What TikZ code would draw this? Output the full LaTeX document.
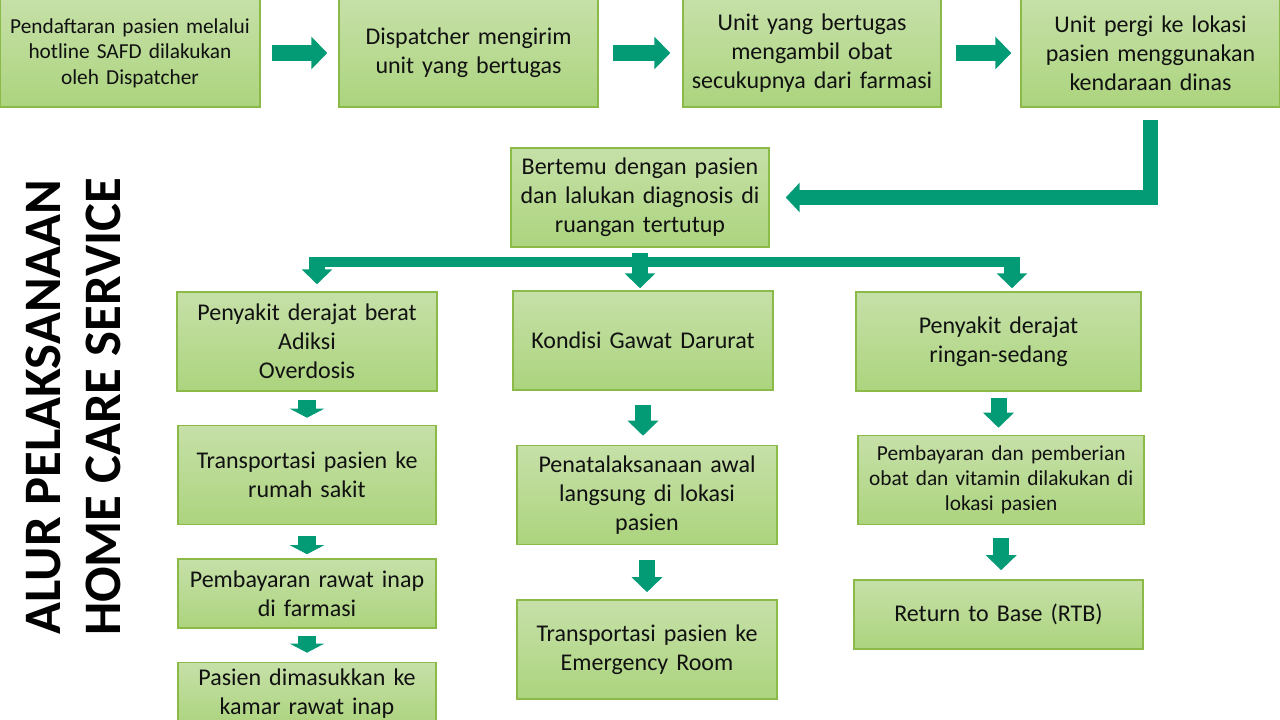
\documentclass[tikz,border=0pt]{standalone}
\usepackage{fontspec}
\setmainfont{Carlito}
\usetikzlibrary{arrows.meta,positioning,calc}
\definecolor{Leaf}{HTML}{C6E0A8}
\definecolor{LeafDark}{HTML}{ACD47E}
\definecolor{LeafLine}{HTML}{8CBA48}
\definecolor{Jade}{HTML}{039B76}
\definecolor{Ink}{HTML}{111111}
\tikzset{
 box/.style={draw=LeafLine,line width=1.1pt,top color=Leaf,bottom color=LeafDark,align=center,text=Ink,font=\fontsize{18}{21.75}\selectfont,text width=194.25pt,inner xsep=0pt,minimum height=74.25pt},
 small/.style={font=\fontsize{16}{19}\selectfont},
 harr/.style={draw=Jade,line width=12pt,-{Triangle[length=12pt,width=24pt]}},
 varr/.style={draw=Jade,line width=12pt,-{Triangle[length=11.25pt,width=22.5pt]}},
 sarr/.style={draw=Jade,line width=13.5pt,-{Triangle[length=6.75pt,width=25.5pt]}},
 bendarr/.style={draw=Jade,line width=11.25pt,line join=miter,-{Triangle[length=10.5pt,width=21.75pt]}},
 bus/.style={draw=Jade,line width=7.5pt},
 title/.style={font=\fontsize{39.5}{45}\selectfont\bfseries,align=center,rotate=90}
}
\begin{document}
\begin{tikzpicture}[x=0.75pt,y=-0.75pt]
\useasboundingbox (0,0) rectangle (1280,720);
\node[title] (ttl) at (73,407) {ALUR PELAKSANAAN\\HOME CARE SERVICE};
% top row
\node[box,small,text width=195pt,minimum height=81pt] (t1) at (130,53) {Pendaftaran pasien melalui\\hotline SAFD dilakukan\\oleh Dispatcher};
\node[box,minimum height=81pt] (t2) at (468.5,53) {Dispatcher mengirim\\unit yang bertugas};
\node[box,text width=193.5pt,minimum height=81pt] (t3) at (812,53) {Unit yang bertugas\\mengambil obat\\secukupnya dari farmasi};
\node[box,minimum height=81pt] (t4) at (1150.5,53) {Unit pergi ke lokasi\\pasien menggunakan\\kendaraan dinas};
\node[box,text width=193.5pt] (c) at (640,197.5) {Bertemu dengan pasien\\dan lalukan diagnosis di\\ruangan tertutup};
% three branches
\node[box,text width=195pt] (L1) at (307,341.5) {Penyakit derajat berat\\Adiksi\\Overdosis};
\node[box,text width=195pt] (M1) at (643,340.5) {Kondisi Gawat Darurat};
\node[box,text width=213.75pt] (R1) at (998.5,341.5) {Penyakit derajat\\ringan-sedang};
\node[box,text width=193.5pt,below=24.75pt of L1] (L2) {Transportasi pasien ke\\rumah sakit};
\node[box,text width=193.5pt,minimum height=51.75pt,below=24.75pt of L2] (L3) {Pembayaran rawat inap\\di farmasi};
\node[box,text width=193.5pt,minimum height=47.25pt,below=24.75pt of L3] (L4) {Pasien dimasukkan ke\\kamar rawat inap};
\node[box,text width=195pt,below=40.5pt of M1,xshift=3pt] (M2) {Penatalaksanaan awal\\langsung di lokasi\\pasien};
\node[box,text width=195pt,below=40.5pt of M2] (M3) {Transportasi pasien ke\\Emergency Room};
\node[box,small,text width=214.5pt,minimum height=66.75pt,below=32.25pt of R1,xshift=2pt] (R2) {Pembayaran dan pemberian\\obat dan vitamin dilakukan di\\lokasi pasien};
\node[box,text width=216.75pt,minimum height=51.75pt,below=40.5pt of R2,xshift=-2pt] (R3) {Return to Base (RTB)};
% connectors
\foreach \a/\b/\s/\e in {t1/t2/8.25/8.25,t2/t3/10.9/9,t3/t4/10.5/6.75}
 \draw[harr,shorten <=\s pt,shorten >=\e pt] (\a) -- (\b);
\draw[bendarr,shorten <=9pt,shorten >=12pt] (t4.south) |- (c.east);
\coordinate (bl) at (317,262);
\coordinate (br) at (1012,262);
\draw[bus] ([shift={(-8,0)}]bl) -- ([shift={(8,0)}]br);
\draw[varr,shorten >=5.25pt] ([shift={(0,-4)}]bl) -- (bl |- L1.north);
\draw[varr,shorten >=2.25pt] ([shift={(0,-4)}]br) -- (br |- R1.north);
\draw[varr,shorten <=3.75pt,shorten >=1.5pt] (c.south) -- (c.south |- M1.north);
\foreach \a/\b/\s/\e in {L1/L2/6/5.25,L2/L3/8.25/3,L3/L4/5.25/6.75}
 \draw[sarr,shorten <=\s pt,shorten >=\e pt] (\a) -- (\b);
\foreach \a/\b/\s/\e in {M1/M2/10.5/6.75,M2/M3/11.25/5.25,R1/R2/4.5/5.25,R2/R3/9.75/6.75}
 \draw[varr,shorten <=\s pt,shorten >=\e pt] (\a.south) -- (\a.south |- \b.north);
\end{tikzpicture}
\end{document}
